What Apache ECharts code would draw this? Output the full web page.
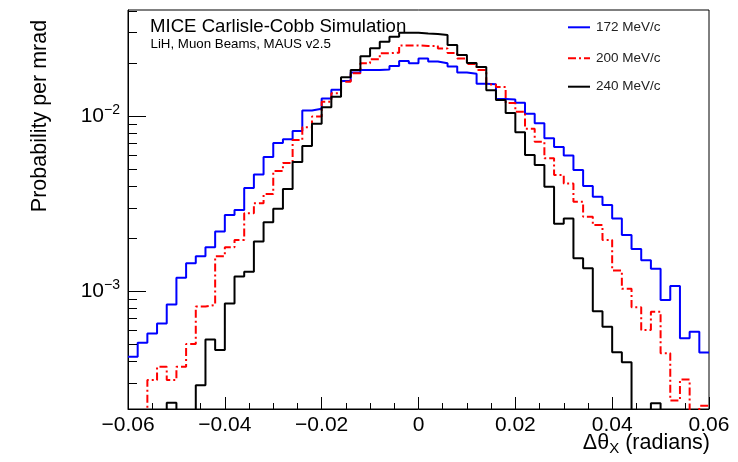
<!DOCTYPE html>
<html><head><meta charset="utf-8">
<script src="https://cdn.jsdelivr.net/npm/echarts@6/dist/echarts.min.js"></script>
<style>html,body{margin:0;padding:0;background:#fff}#c{width:738px;height:462px}</style>
</head><body><div id="c"></div>
<script>
// ---- data ----
const binLowEdges = [-0.060,-0.058,-0.056,-0.054,-0.052,-0.050,-0.048,-0.046,-0.044,-0.042,
  -0.040,-0.038,-0.036,-0.034,-0.032,-0.030,-0.028,-0.026,-0.024,-0.022,
  -0.020,-0.018,-0.016,-0.014,-0.012,-0.010,-0.008,-0.006,-0.004,-0.002,
  0.000,0.002,0.004,0.006,0.008,0.010,0.012,0.014,0.016,0.018,
  0.020,0.022,0.024,0.026,0.028,0.030,0.032,0.034,0.036,0.038,
  0.040,0.042,0.044,0.046,0.048,0.050,0.052,0.054,0.056,0.058];
const binHighEdge = 0.060;
const seriesNames = ['172 MeV/c', '200 MeV/c', '240 MeV/c'];
const p172 = [4.21e-4,5.07e-4,5.73e-4,6.52e-4,8.37e-4,1.19e-3,1.44e-3,1.58e-3,1.78e-3,2.19e-3,
  2.72e-3,2.90e-3,3.88e-3,4.63e-3,5.83e-3,7.01e-3,7.36e-3,8.21e-3,1.075e-2,1.10e-2,
  1.26e-2,1.41e-2,1.585e-2,1.77e-2,1.83e-2,1.83e-2,1.84e-2,1.93e-2,2.06e-2,2.00e-2,
  2.13e-2,2.05e-2,2.00e-2,1.92e-2,1.77e-2,1.74e-2,1.53e-2,1.52e-2,1.25e-2,1.24e-2,
  1.19e-2,1.03e-2,9.08e-3,7.46e-3,6.65e-3,5.95e-3,4.91e-3,3.98e-3,3.46e-3,3.10e-3,
  2.60e-3,2.09e-3,1.74e-3,1.50e-3,1.34e-3,8.89e-4,1.07e-3,5.37e-4,5.85e-4,4.45e-4];
const p200 = [0,0,3.10e-4,3.69e-4,3.10e-4,3.69e-4,4.98e-4,8.15e-4,8.32e-4,1.58e-3,
  1.78e-3,1.96e-3,2.78e-3,3.17e-3,3.58e-3,4.85e-3,5.39e-3,7.29e-3,8.62e-3,9.93e-3,
  1.207e-2,1.348e-2,1.57e-2,1.754e-2,2.00e-2,2.109e-2,2.282e-2,2.30e-2,2.53e-2,2.53e-2,
  2.51e-2,2.51e-2,2.43e-2,2.29e-2,2.13e-2,1.98e-2,1.83e-2,1.514e-2,1.465e-2,1.187e-2,
  1.058e-2,8.46e-3,7.13e-3,5.73e-3,4.60e-3,4.12e-3,3.24e-3,2.66e-3,2.38e-3,1.96e-3,
  1.31e-3,1.03e-3,8.08e-4,5.99e-4,7.62e-4,4.42e-4,2.37e-4,3.12e-4,0,2.21e-4];
const p240 = [0,0,0,0,2.30e-4,0,0,2.90e-4,5.28e-4,4.60e-4,
  8.48e-4,1.21e-3,1.29e-3,1.92e-3,2.47e-3,2.95e-3,3.83e-3,5.46e-3,6.74e-3,9.04e-3,
  1.121e-2,1.289e-2,1.664e-2,1.83e-2,2.193e-2,2.437e-2,2.658e-2,2.839e-2,2.99e-2,2.99e-2,
  2.96e-2,2.94e-2,2.90e-2,2.545e-2,2.231e-2,2.009e-2,1.905e-2,1.403e-2,1.234e-2,1.04e-2,
  8.08e-3,5.99e-3,5.25e-3,3.94e-3,2.42e-3,2.60e-3,1.54e-3,1.35e-3,7.67e-4,6.25e-4,
  4.47e-4,3.92e-4,0,0,2.29e-4,0,0,0,0,0];
const xMin = -0.06, xMax = 0.06, xInterval = 0.02;
const yMin = 2.12e-4, yMax = 4.03e-2;
const yMajorTicks = [1e-3, 1e-2];
const titleText = 'MICE Carlisle-Cobb Simulation';
const subtitleText = 'LiH, Muon Beams, MAUS v2.5';
const yTitle = 'Probability per mrad';

// ---- chart ----
const FONT = '"Liberation Sans", Arial, Helvetica, sans-serif';
const FLOOR = 1e-7; // empty bins (0) are drawn below the visible log range
const colors = ['#0000ff', '#ff0000', '#000000'];
const dashes = ['solid', [8, 3, 2, 3], 'solid'];
const allSeries = [p172, p200, p240];

function histData(vals) {
  const d = vals.map((v, i) => [binLowEdges[i], v > 0 ? v : FLOOR]);
  const last = vals[vals.length - 1];
  d.push([binHighEdge, last > 0 ? last : FLOOR]);
  return d;
}
function fmtX(v) {
  if (Math.abs(v) < 1e-9) return '0';
  return (v < 0 ? '\u2212' : '') + Math.abs(v).toFixed(2);
}
function fmtY(v) {
  const e = Math.log10(v);
  const r = Math.round(e);
  if (Math.abs(e - r) > 1e-6) return '';
  if (!yMajorTicks.some(t => Math.abs(Math.log10(t) - r) < 1e-6)) return '';
  return '{b|10}{s|' + (r < 0 ? '\u2212' + (-r) : r) + '}';
}

const chart = echarts.init(document.getElementById('c'), null, {renderer: 'canvas'});
const option = {
  animation: false,
  backgroundColor: '#ffffff',
  grid: {left: 128, right: 29, top: 10, bottom: 53, show: true, borderColor: '#000', borderWidth: 1, backgroundColor: 'transparent'},
  xAxis: {
    type: 'value', min: xMin, max: xMax, interval: xInterval,
    axisLine: {show: true, onZero: false, lineStyle: {color: '#000', width: 1}},
    axisTick: {show: true, inside: true, length: 12, lineStyle: {color: '#000', width: 1}},
    minorTick: {show: true, splitNumber: 4, length: 6, lineStyle: {color: '#000', width: 1}},
    splitLine: {show: false}, minorSplitLine: {show: false},
    axisLabel: {margin: 6, fontSize: 21, color: '#000', fontFamily: FONT, formatter: fmtX, showMinLabel: true, showMaxLabel: true}
  },
  yAxis: {
    type: 'log', logBase: 10, min: yMin, max: yMax,
    axisLine: {show: true, onZero: false, lineStyle: {color: '#000', width: 1}},
    axisTick: {show: false}, splitLine: {show: false}, minorTick: {show: false},
    axisLabel: {
      margin: 8, color: '#000', fontFamily: FONT, formatter: fmtY, showMinLabel: false, showMaxLabel: false,
      rich: {
        b: {fontSize: 21, fontFamily: FONT, color: '#000', lineHeight: 26},
        s: {fontSize: 14, fontFamily: FONT, color: '#000', verticalAlign: 'top', lineHeight: 14}
      }
    }
  },
  series: allSeries.map((vals, k) => ({
    name: seriesNames[k], type: 'line', step: 'end', symbol: 'none', showSymbol: false,
    clip: true, data: histData(vals),
    lineStyle: {color: colors[k], width: 2, type: dashes[k]},
    itemStyle: {color: colors[k]},
    z: 2 + k
  }))
};
chart.setOption(option);

const x0 = chart.convertToPixel({xAxisIndex: 0}, xMin);
const graphics = [
  {type: 'text', z: 20, style: {x: 150, y: 26.5, text: titleText, fontSize: 18.6, fontFamily: FONT, fill: '#000', verticalAlign: 'middle', textVerticalAlign: 'middle'}},
  {type: 'text', z: 20, style: {x: 150.5, y: 44.5, text: subtitleText, fontSize: 13.3, fontFamily: FONT, fill: '#000', verticalAlign: 'middle', textVerticalAlign: 'middle'}},
  {type: 'text', z: 20, x: 40, y: 116, rotation: Math.PI / 2,
   style: {x: 0, y: 0, text: yTitle, fontSize: 21.5, fontFamily: FONT, fill: '#000', align: 'center', textAlign: 'center', verticalAlign: 'middle', textVerticalAlign: 'middle'}},
  {type: 'text', z: 20, style: {x: 710, y: 443, text: '{n|\u0394\u03b8}{s|X}{n| (radians)}', align: 'right', textAlign: 'right', verticalAlign: 'middle', textVerticalAlign: 'middle',
    rich: {n: {fontSize: 21.5, fontFamily: FONT, fill: '#000', color: '#000', lineHeight: 26}, s: {fontSize: 15, fontFamily: FONT, fill: '#000', color: '#000', verticalAlign: 'bottom', lineHeight: 15}}}}
];
// legend (drawn to match the reference's line-only keys)
const legendY = [27.3, 58.3, 86.7];
seriesNames.forEach((name, k) => {
  graphics.push({type: 'line', z: 20, shape: {x1: 568, y1: legendY[k], x2: 590, y2: legendY[k]},
    style: {stroke: colors[k], lineWidth: 2, lineDash: dashes[k] === 'solid' ? null : dashes[k]}});
  graphics.push({type: 'text', z: 20, style: {x: 596, y: legendY[k], text: name, fontSize: 13.5, fontFamily: FONT, fill: '#222', verticalAlign: 'middle', textVerticalAlign: 'middle'}});
});
for (let e = -4; e <= -1; e++) {
  for (let k = 1; k <= 9; k++) {
    const v = k * Math.pow(10, e);
    if (v < yMin || v > yMax) continue;
    const py = Math.round(chart.convertToPixel({yAxisIndex: 0}, v)) + 0.5;
    const len = k === 1 ? 18 : 9;
    graphics.push({type: 'line', z: 20, shape: {x1: x0, y1: py, x2: x0 + len, y2: py}, style: {stroke: '#000', lineWidth: 1}});
  }
}
chart.setOption({graphic: graphics});
</script>
</body></html>
